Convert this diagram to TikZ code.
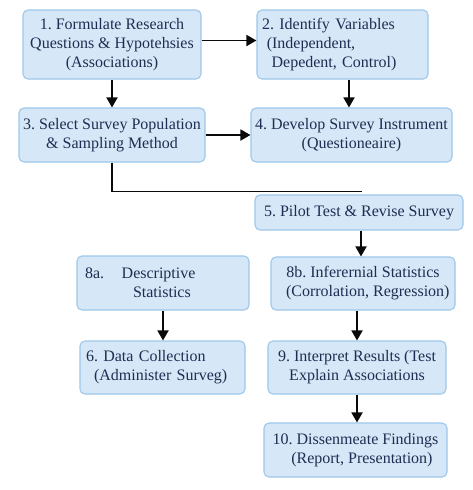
\documentclass[tikz,border=0pt]{standalone}
\usepackage{fontspec}
\setmainfont{Liberation Serif}
\usepackage{tikz}
\usetikzlibrary{arrows.meta, positioning, calc}
\definecolor{boxfill}{RGB}{214,231,247}
\definecolor{boxedge}{RGB}{158,200,234}
\definecolor{boxtext}{RGB}{30,46,82}
\definecolor{mydark}{RGB}{10,10,10}
\tikzset{
  box/.style={rectangle, draw=boxedge, fill=boxfill, text=boxtext,
    align=center, inner sep=0pt, rounded corners=5pt, line width=1.1pt,
    font=\fontsize{16}{19}\selectfont\frenchspacing},
  leftbox/.style={box, align=left, inner xsep=6pt},
  arrow/.style={-{Triangle[length=10pt, width=11pt]}, line width=1.8pt, color=mydark},
  line/.style={line width=1.8pt, color=mydark}
}

\begin{document}
\begin{tikzpicture}[x=1pt, y=-1pt]
  \useasboundingbox[fill=white] (0,0) rectangle (472,490);
  % Top rows
  \node[box, minimum width=178pt, minimum height=69pt] (form) at (112,44.5)
    {1. Formulate Research\\Questions \& Hypotehsies\\(Associations)};
  \node[leftbox, inner xsep=5pt, text width=161pt, minimum height=69pt] (ident) at (342.5,44.5)
    {2. Identify Variables\\\hspace{0.3em}(Independent,\\\hspace{0.6em}Depedent, Control)};
  \node[box, minimum width=186pt, minimum height=54pt] (select) at (112,135)
    {3. Select Survey Population\\\& Sampling Method};
  \node[box, minimum width=201pt, minimum height=54pt] (develop) at (351.5,135)
    {4. Develop Survey Instrument\\(Questioneaire)};
  % Pilot
  \node[box, minimum width=208pt, minimum height=35pt] (pilot) at (359,212.5)
    {5. Pilot Test \& Revise Survey};
  % Analysis
  \node[leftbox, inner xsep=8pt, text width=156pt, minimum height=54pt] (desc) at (163,283)
    {8a.\hspace{1.1em}Descriptive\\\hspace{3em}Statistics};
  \node[box, minimum width=184pt, minimum height=53pt] (infer) at (363,283.5)
    {8b. Inferernial Statistics\\\hspace{0.6em}(Corrolation, Regression)};
  \node[leftbox, text width=153pt, minimum height=53pt] (collect) at (162.5,367.5)
    {6. Data Collection\\\hspace{0.5em}(Administer Surveg)};
  \node[box, minimum width=178pt, minimum height=53pt] (interp) at (357,367.5)
    {9. Interpret Results (Test\\Explain Associations};
  \node[box, minimum width=183pt, minimum height=54pt] (dissem) at (355.5,450)
    {10. Dissenmeate Findings\\\hspace{0.8em}(Report, Presentation)};
  % Connections
  \draw[arrow] ([yshift=4pt]form.east) -- ([yshift=4pt]form.east -| ident.west);
  \draw[arrow] (form.south) -- (select.north);
  \draw[arrow] ([xshift=6.5pt]ident.south) -- ([xshift=6.5pt]ident.south |- develop.north);
  \draw[arrow] (select.east) -- (develop.west);
  \draw[line] (select.south) |- ([xshift=3pt, yshift=3pt]pilot.north);
  \draw[arrow] ([xshift=2pt]pilot.south) -- ([xshift=2pt]pilot.south |- infer.north);
  \draw[arrow] (desc.south) -- (desc.south |- collect.north);
  \draw[arrow] (interp.north |- infer.south) -- (interp.north);
  \draw[arrow] (interp.south) -- (interp.south |- dissem.north);
\end{tikzpicture}
\end{document}
